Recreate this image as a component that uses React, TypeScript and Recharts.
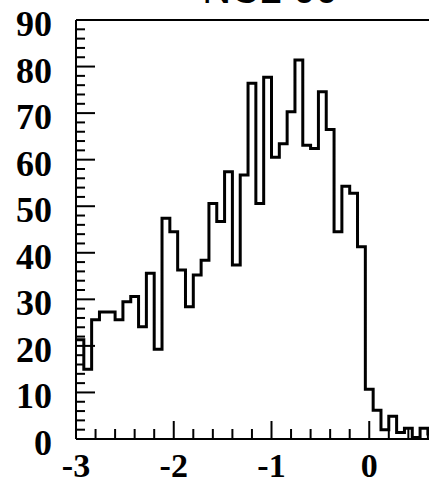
import { Line, LineChart, ReferenceLine, XAxis, YAxis } from "recharts"

// histogram booked as 50 bins on [-3, 1]
const HIST_MIN = -3
const HIST_MAX = 1
const BIN_WIDTH = 0.08

const counts = [
  21.3, 15.0, 25.6, 27.3, 27.3, 25.6, 29.5, 30.6, 24.1, 35.6,
  19.3, 47.4, 44.5, 36.3, 28.4, 35.2, 38.4, 50.6, 46.7, 57.4,
  37.4, 56.7, 76.4, 50.6, 77.7, 60.5, 63.4, 70.3, 81.4, 63.1,
  62.4, 74.6, 66.5, 44.5, 54.3, 52.8, 41.3, 10.7, 6.2, 2.0,
  4.9, 1.4, 2.3, 0.3, 2.3, 1.1, 0, 0, 0, 0,
]

const xTicks = [
  -3, -2.8, -2.6, -2.4, -2.2, -2, -1.8, -1.6, -1.4, -1.2, -1,
  -0.8, -0.6, -0.4, -0.2, 0, 0.2, 0.4, 0.6, 0.8, 1,
]
// labelled x ticks inside the visible frame
const xLabels = [-3, -2, -1, 0]

const yTicks = [
  0, 2, 4, 6, 8, 10, 12, 14, 16, 18, 20, 22, 24, 26, 28, 30, 32, 34, 36, 38,
  40, 42, 44, 46, 48, 50, 52, 54, 56, 58, 60, 62, 64, 66, 68, 70, 72, 74, 76, 78,
  80, 82, 84, 86, 88, 90,
]

const TITLE = "NC2 00"

// step points: left edge of every bin, plus the closing right edge
const histPoints = counts
  .map((c, i) => ({ x: HIST_MIN + i * BIN_WIDTH, y: c }))
  .concat([{ x: HIST_MIN + counts.length * BIN_WIDTH, y: counts[counts.length - 1] }])

const LABEL_FONT = {
  fontFamily: "'Liberation Serif', 'Times New Roman', serif",
  fontWeight: 700,
  fill: "#000",
}

const isMajor = (v: number) => Math.abs(v - Math.round(v)) < 1e-6

function YTick(props: any) {
  const { x, y, payload } = props
  const v = payload.value
  if (v % 10 === 0) {
    return (
      <g>
        <line x1={x} x2={x + 19} y1={y} y2={y} stroke="#000" strokeWidth={2} />
        <text x={x - 24} y={y + 16} textAnchor="end" fontSize={36} {...LABEL_FONT}>
          {v}
        </text>
      </g>
    )
  }
  return <line x1={x} x2={x + 9} y1={y} y2={y} stroke="#000" strokeWidth={2} />
}

function XTick(props: any) {
  const { x, y, payload } = props
  const v = payload.value
  if (isMajor(v)) {
    const labelled = xLabels.includes(Math.round(v))
    return (
      <g>
        <line x1={x} x2={x} y1={y} y2={y - 18} stroke="#000" strokeWidth={2} />
        {labelled && (
          <text x={x} y={y + 38} textAnchor="middle" fontSize={34} {...LABEL_FONT}>
            {String(Math.round(v))}
          </text>
        )}
      </g>
    )
  }
  return <line x1={x} x2={x} y1={y} y2={y - 10} stroke="#000" strokeWidth={2} />
}

export default function App() {
  return (
    <div
      style={{
        position: "absolute",
        left: 0,
        top: 0,
        width: 429,
        height: 485,
        overflow: "hidden",
        background: "#fff",
      }}
    >
      <LineChart
        width={520}
        height={485}
        data={histPoints}
        margin={{ top: 20, right: 53, bottom: 0, left: 0 }}
      >
        <XAxis
          type="number"
          dataKey="x"
          domain={[HIST_MIN, HIST_MAX]}
          ticks={xTicks}
          interval={0}
          tick={XTick}
          tickLine={false}
          tickSize={0}
          tickMargin={0}
          height={46}
          axisLine={{ stroke: "#000", strokeWidth: 2 }}
          allowDataOverflow
        />
        <YAxis
          type="number"
          domain={[0, 90]}
          ticks={yTicks}
          interval={0}
          tick={YTick}
          tickLine={false}
          tickSize={0}
          tickMargin={0}
          width={76}
          axisLine={{ stroke: "#000", strokeWidth: 2 }}
          allowDataOverflow
        />
        <ReferenceLine y={90} stroke="#000" strokeWidth={2} />
        <ReferenceLine x={HIST_MAX} stroke="#000" strokeWidth={2} />
        <Line
          type="stepAfter"
          dataKey="y"
          stroke="#000"
          strokeWidth={3}
          dot={false}
          isAnimationActive={false}
        />
      </LineChart>
      <svg
        width={429}
        height={485}
        style={{ position: "absolute", left: 0, top: 0, pointerEvents: "none" }}
      >
        <text
          x={270}
          y={3}
          textAnchor="middle"
          fontFamily="'Liberation Sans', Arial, sans-serif"
          fontSize={40}
          fill="#000"
        >
          {TITLE}
        </text>
      </svg>
    </div>
  )
}
